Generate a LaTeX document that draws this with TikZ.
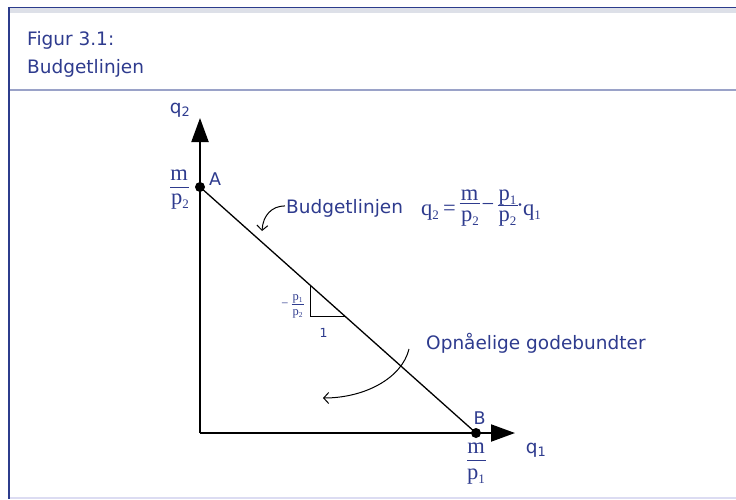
\documentclass[tikz,border=0pt]{standalone}
\usepackage{fontspec}
\setmainfont{DejaVu Sans}
\newfontfamily\serif{Liberation Serif}
\usetikzlibrary{arrows.meta}
\definecolor{txt}{HTML}{2E3B8E}
\definecolor{frameblue}{HTML}{2C3C8C}
\definecolor{bandgray}{HTML}{DDE0E8}
\definecolor{sepblue}{HTML}{9AA2C8}
\definecolor{botline}{HTML}{DCDCF2}
\newcommand\bigsub[1]{\raisebox{-4pt}{\fontsize{13}{14}\selectfont #1}}
\newcommand\smallsub[1]{\raisebox{-2pt}{\fontsize{7.5}{8}\selectfont #1}}
\begin{document}
\begin{tikzpicture}[x=1pt,y=-1pt,
  sans/.style={text=txt, font=\fontsize{18.5}{22}\selectfont, inner sep=0pt},
  head/.style={text=txt, font=\fontsize{18.5}{22}\selectfont, inner sep=0pt, anchor=base west},
  ser/.style={text=txt, font=\serif\fontsize{22.5}{26}\selectfont, inner sep=0pt, anchor=base},
  sersmall/.style={text=txt, font=\serif\fontsize{12.5}{14}\selectfont, inner sep=0pt, anchor=base},
  fracbar/.style={draw=txt, line width=0.9pt},
  axis/.style={line width=2pt, -{Triangle[length=24pt,width=17pt]}},
  budget/.style={line width=1.3pt},
  thin/.style={line width=1.5pt},
  curvearrow/.style={line width=1pt, -{Straight Barb[length=5pt,width=11pt]}},
  dot/.style={circle, fill=black, inner sep=0pt, minimum size=10pt}]
\useasboundingbox (0,0) rectangle (736,499);
% frame
\fill[bandgray] (8,8) rectangle (736,12.5);
\draw[frameblue, line width=1.5pt] (8,7.5) -- (736,7.5);
\draw[sepblue, line width=2pt] (8,90) -- (736,90);
\draw[botline, line width=2pt] (8,498) -- (736,498);
\draw[frameblue, line width=2pt] (8.5,6.8) -- (8.5,499);
% header
\node[head] (h1) at (27,45) {Figur 3.1:};
\node[head] (h2) at (27,73) {Budgetlinjen};
% axes
\coordinate (O) at (200,433);
\coordinate (ytip) at (200,118);
\coordinate (xtip) at (515,433);
\draw[axis] (O) -- (ytip);
\draw[axis] (O) -- (xtip);
\node[sans] (q2lab) at (180,110) {q\textsubscript{2}};
\node[sans] (q1lab) at (536,450) {q\textsubscript{1}};
% budget line
\node[dot] (A) at (200,187) {};
\node[dot] (B) at (476,433) {};
\draw[budget] (A.center) -- (B.center);
\node[sans, font=\fontsize{17.5}{20}\selectfont] (Alab) at (215,179) {A};
\node[sans, font=\fontsize{17.5}{20}\selectfont] (Blab) at (479.5,418) {B};
% m/p2 at A
\node[ser] (mA) at (179,180) {m};
\draw[fracbar] (170,187) -- (189,187);
\node[ser] (pA) at (180,204) {p\bigsub{2}};
% m/p1 at B
\node[ser] (mB) at (476,453) {m};
\draw[fracbar] (467,460.5) -- (486,460.5);
\node[ser] (pB) at (476,479) {p\bigsub{1}};
% slope triangle
\coordinate (T1) at (310.5,285.5);
\coordinate (T2) at (310.5,316.5);
\coordinate (T3) at (346,316.5);
\draw[thin] (T1) -- (T2) -- (T3);
\node[sersmall] (sm) at (285,307) {\textminus};
\node[sersmall] (sp1) at (297.5,300) {p\smallsub{1}};
\draw[draw=txt, line width=0.6pt] (291.5,304) -- (304,304);
\node[sersmall] (sp2) at (297.5,315) {p\smallsub{2}};
\node[sans, font=\fontsize{12.5}{14}\selectfont] (one) at (323.5,332.5) {1};
% budget label + formula
\node[sans, anchor=base west] (bl) at (286,213) {Budgetlinjen};
\coordinate (blend) at (262,231);
\draw[curvearrow] ([xshift=-1pt,yshift=2pt]bl.west) .. controls (272,206) and (263,215) .. (blend);
\node[ser, anchor=base west] (fq2) at (421,215) {q\bigsub{2}};
\node[ser] (feq) at (449.5,215) {=};
\node[ser] (fm) at (469.5,200) {m};
\draw[fracbar] (459.5,203.5) -- (480,203.5);
\node[ser] (fp2a) at (470,221) {p\bigsub{2}};
\node[ser] (fminus) at (488,211) {\textminus};
\node[ser] (fp1) at (507.5,200.5) {p\bigsub{1}};
\draw[fracbar] (497.5,205.5) -- (517.5,205.5);
\node[ser] (fp2b) at (507.5,221) {p\bigsub{2}};
\node[ser] (fdot) at (520,212) {\textperiodcentered};
\node[ser, anchor=base west] (fq1) at (523,215) {q\bigsub{1}};
% attainable bundles
\node[sans, anchor=base west] (ob) at (426,349) {Opnåelige godebundter};
\coordinate (obstart) at (409,349);
\coordinate (obend) at (323,398);
\draw[curvearrow] (obstart) .. controls (402,378) and (365,398) .. (obend);
\end{tikzpicture}
\end{document}
